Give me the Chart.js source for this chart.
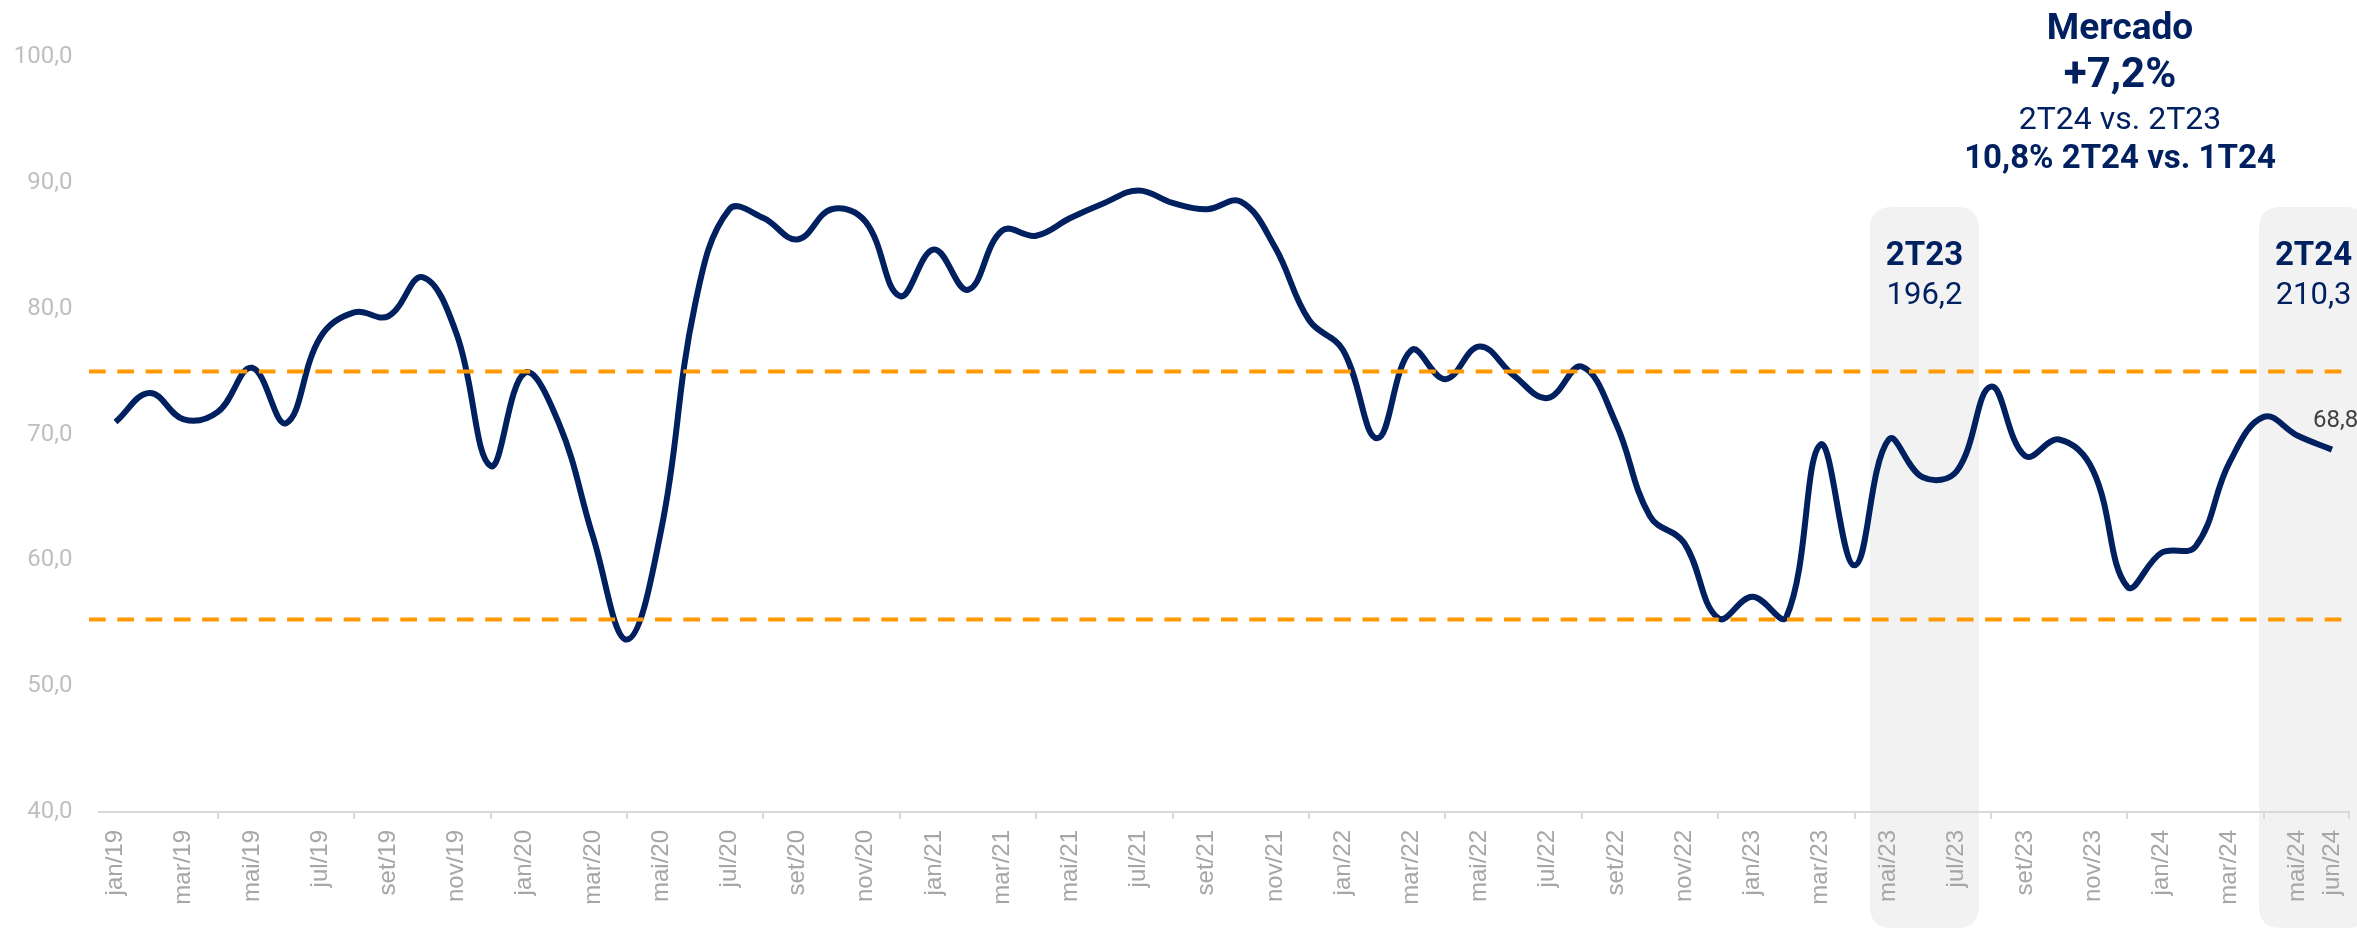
<!DOCTYPE html>
<html>
<head>
<meta charset="utf-8">
<script src="https://cdn.jsdelivr.net/npm/chart.js@4/dist/chart.umd.min.js"></script>
<style>
  body { margin: 0; background: #ffffff; }
  #wrap { width: 2357px; height: 930px; }
</style>
</head>
<body>
<div id="wrap"><canvas id="marketChart" width="2357" height="930"></canvas></div>
<script>
// Months (jan/19 .. jun/24)
const months = [
  "jan/19", "fev/19", "mar/19", "abr/19", "mai/19", "jun/19", "jul/19", "ago/19", "set/19", "out/19", "nov/19", "dez/19",
  "jan/20", "fev/20", "mar/20", "abr/20", "mai/20", "jun/20", "jul/20", "ago/20", "set/20", "out/20", "nov/20", "dez/20",
  "jan/21", "fev/21", "mar/21", "abr/21", "mai/21", "jun/21", "jul/21", "ago/21", "set/21", "out/21", "nov/21", "dez/21",
  "jan/22", "fev/22", "mar/22", "abr/22", "mai/22", "jun/22", "jul/22", "ago/22", "set/22", "out/22", "nov/22", "dez/22",
  "jan/23", "fev/23", "mar/23", "abr/23", "mai/23", "jun/23", "jul/23", "ago/23", "set/23", "out/23", "nov/23", "dez/23",
  "jan/24", "fev/24", "mar/24", "abr/24", "mai/24", "jun/24",
];

// Monthly market volume
const marketValues = [
  71.0, 73.3, 71.2, 71.8, 75.3, 70.9, 77.7, 79.7, 79.4, 82.5, 78.0, 67.5,
  74.9, 70.9, 61.9, 53.7, 62.4, 80.4, 87.9, 87.2, 85.5, 87.9, 86.9, 81.0,
  84.7, 81.5, 86.2, 85.8, 87.2, 88.4, 89.4, 88.4, 87.9, 88.5, 84.9, 79.1,
  76.7, 69.7, 76.7, 74.4, 77.0, 74.7, 72.9, 75.4, 70.9, 63.5, 61.4, 55.4,
  57.1, 55.5, 69.2, 59.6, 69.6, 66.6, 67.1, 73.8, 68.3, 69.6, 67.1, 57.9,
  60.6, 61.1, 67.8, 71.4, 69.9, 68.8,
];

// Band limits (dashed lines)
const bandUpper = 75.0;
const bandLower = 55.3;

// Quarter highlights
const quarterNames = ["2T23", "2T24"];
const quarterTotals = ["196,2", "210,3"];
const quarterFrom = [51.45, 62.86];
const quarterTo = [54.65, 66.06];

// Headline
const headline = ["Mercado", "+7,2%", "2T24 vs. 2T23", "10,8% 2T24 vs. 1T24"];

const navy = "#002060";
const orange = "#ff9900";

function fmt(v) {
  return v.toFixed(1).replace(".", ",");
}

function roundRect(ctx, x, y, w, h, r) {
  ctx.beginPath();
  ctx.moveTo(x + r, y);
  ctx.lineTo(x + w - r, y);
  ctx.quadraticCurveTo(x + w, y, x + w, y + r);
  ctx.lineTo(x + w, y + h - r);
  ctx.quadraticCurveTo(x + w, y + h, x + w - r, y + h);
  ctx.lineTo(x + r, y + h);
  ctx.quadraticCurveTo(x, y + h, x, y + h - r);
  ctx.lineTo(x, y + r);
  ctx.quadraticCurveTo(x, y, x + r, y);
  ctx.closePath();
}

// grey quarter boxes + headline text
const backdrop = {
  id: "backdrop",
  beforeDraw(chart) {
    const ctx = chart.ctx;
    const xs = chart.scales.x;
    ctx.save();
    for (let i = 0; i < quarterNames.length; i++) {
      const left = xs.getPixelForValue(quarterFrom[i]);
      const right = xs.getPixelForValue(quarterTo[i]);
      ctx.fillStyle = "#f2f2f2";
      roundRect(ctx, left, 207, right - left, 721, 22);
      ctx.fill();

      const cx = (left + right) / 2;
      ctx.fillStyle = navy;
      ctx.textAlign = "center";
      ctx.textBaseline = "alphabetic";
      ctx.font = "bold 33px Roboto";
      ctx.fillText(quarterNames[i], cx, 265);
      ctx.font = "31px Roboto";
      ctx.fillText(quarterTotals[i], cx, 304);
    }

    ctx.fillStyle = navy;
    ctx.textAlign = "center";
    ctx.font = "bold 37px Roboto";
    ctx.fillText(headline[0], 2120, 38.5);
    ctx.font = "bold 42px Roboto";
    ctx.fillText(headline[1], 2120, 87);
    ctx.font = "32px Roboto";
    ctx.fillText(headline[2], 2120, 129);
    ctx.font = "bold 33px Roboto";
    ctx.fillText(headline[3], 2120, 168);
    ctx.restore();
  },
  afterDatasetsDraw(chart) {
    const ctx = chart.ctx;
    const ys = chart.scales.y;
    const area = chart.chartArea;
    ctx.save();
    ctx.strokeStyle = orange;
    ctx.lineWidth = 4;
    ctx.setLineDash([16.7, 11.6]);
    [bandUpper, bandLower].forEach(function (v) {
      const y = ys.getPixelForValue(v);
      ctx.beginPath();
      ctx.moveTo(area.left - 9.5, y);
      ctx.lineTo(area.right - 3, y);
      ctx.stroke();
    });
    ctx.setLineDash([]);

    // last value label
    const meta = chart.getDatasetMeta(0);
    const last = meta.data[meta.data.length - 1];
    ctx.fillStyle = "#404040";
    ctx.font = "24px Roboto";
    ctx.textAlign = "left";
    ctx.textBaseline = "alphabetic";
    ctx.fillText(fmt(marketValues[marketValues.length - 1]), last.x - 19, last.y - 23);
    ctx.restore();
  },
};

let ctxMarket = document.getElementById("marketChart").getContext("2d");
let marketChart = new Chart(ctxMarket, {
  type: "line",
  data: {
    labels: months,
    datasets: [
      {
        label: "Mercado",
        data: marketValues,
        borderColor: navy,
        borderWidth: 6,
        pointRadius: 0,
        fill: false,
        tension: 0.4,
      },
    ],
  },
  options: {
    responsive: false,
    animation: false,
    layout: { padding: { top: 57, right: 8, left: 0, bottom: 0 } },
    plugins: {
      legend: { display: false },
      tooltip: { enabled: false },
    },
    scales: {
      x: {
        offset: true,
        afterFit(scale) {
          scale.height = 118;
          scale.paddingLeft = 0;
          scale.paddingRight = 0;
        },
        border: { display: true, color: "#d9d9d9", width: 2 },
        grid: {
          offset: true,
          drawOnChartArea: false,
          drawTicks: true,
          tickLength: 7,
          lineWidth: 2,
          color(c) {
            if (c.index === undefined || c.index % 2 === 0) return "#d9d9d9";
            return "rgba(0,0,0,0)";
          },
        },
        ticks: {
          autoSkip: false,
          maxRotation: 90,
          minRotation: 90,
          padding: 11,
          color: "#a6a6a6",
          font: { family: "'Liberation Sans', Arial, sans-serif", size: 24 },
          callback(val, index) {
            if (index % 2 === 0 || index === months.length - 1) return months[index];
            return null;
          },
        },
      },
      y: {
        min: 40,
        max: 100,
        afterFit(scale) { scale.width = 98.5; },
        border: { display: false },
        grid: { display: false, drawTicks: false },
        ticks: {
          stepSize: 10,
          padding: 26,
          color: "#bfbfbf",
          font: { family: "Roboto", size: 24 },
          callback(v) { return fmt(v); },
        },
      },
    },
  },
  plugins: [backdrop],
});
</script>
</body>
</html>
